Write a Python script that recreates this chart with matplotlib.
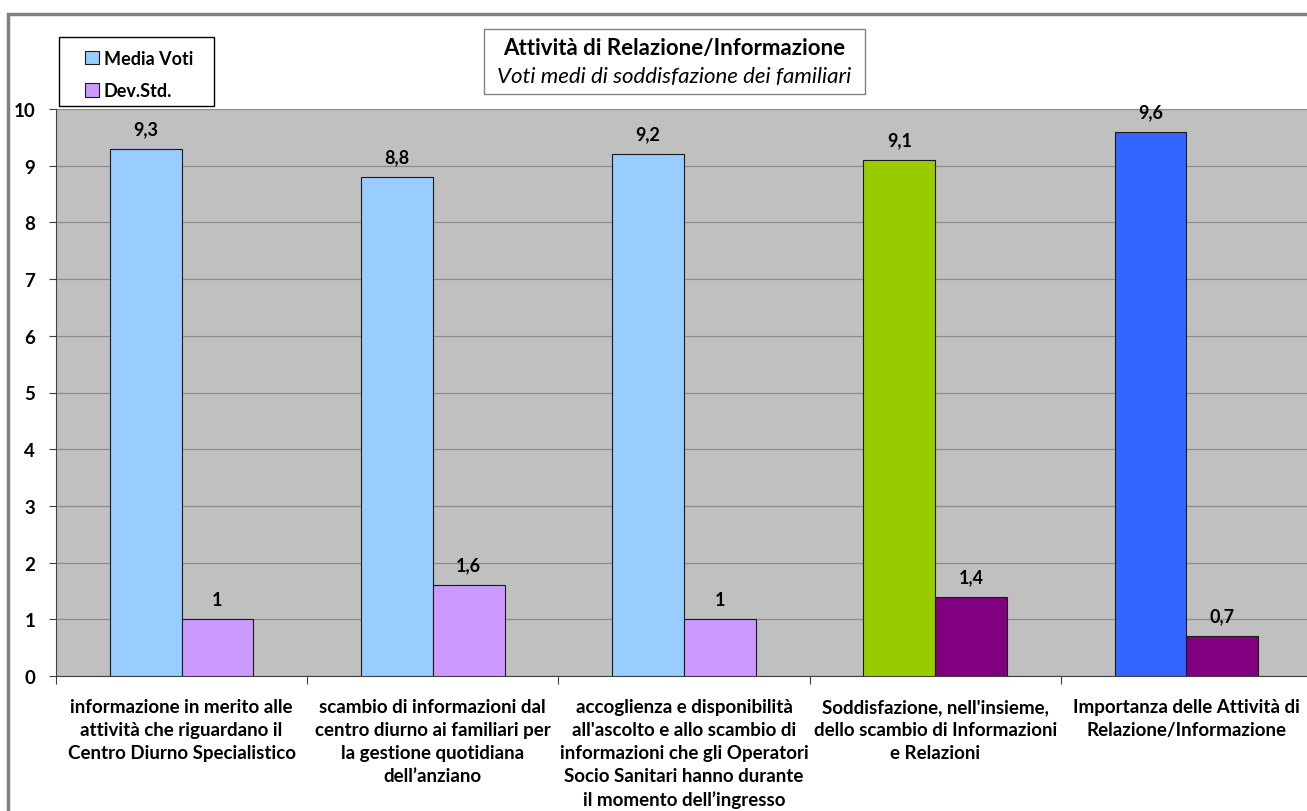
import numpy as np
import matplotlib
matplotlib.use("Agg")
import matplotlib.pyplot as plt
from matplotlib.patches import Rectangle, Patch

plt.rcParams['font.family'] = ['Lato', 'DejaVu Sans']

# ======== data ========#
categorie = [
    "informazione in merito alle\nattività che riguardano il\nCentro Diurno Specialistico",
    "scambio di informazioni dal\ncentro diurno ai familiari per\nla gestione quotidiana\ndell\u2019anziano",
    "accoglienza e disponibilità\nall'ascolto e allo scambio di\ninformazioni che gli Operatori\nSocio Sanitari hanno durante\nil momento dell\u2019ingresso",
    "Soddisfazione, nell'insieme,\ndello scambio di Informazioni\ne Relazioni",
    "Importanza delle Attività di\nRelazione/Informazione",
]
media_voti = [9.3, 8.8, 9.2, 9.1, 9.6]
dev_std = [1.0, 1.6, 1.0, 1.4, 0.7]
etichette_media = ["9,3", "8,8", "9,2", "9,1", "9,6"]
etichette_dev = ["1", "1,6", "1", "1,4", "0,7"]

col_media = ["#99CCFF", "#99CCFF", "#99CCFF", "#99CC00", "#3366FF"]
col_dev = ["#CC99FF", "#CC99FF", "#CC99FF", "#800080", "#800080"]

W, H = 1307, 812
fig = plt.figure(figsize=(W/100.0, H/100.0), dpi=100)

# outer chart border (cropped on right / bottom)
fig.patches.append(Rectangle((8.0/W, -0.1), 1.2, 1.1 - 15.0/H, transform=fig.transFigure,
                             fill=False, edgecolor="#808080", linewidth=2.5))

ax = fig.add_axes([56.0/W, 1 - 677.0/H, (1312.0 - 56.0)/W, (677.0 - 110.0)/H])
ax.set_facecolor("#C0C0C0")

x = np.arange(len(categorie))
bw = 0.286
b1 = ax.bar(x - bw/2, media_voti, bw, color=col_media, edgecolor="#1a1a1a", linewidth=0.8, zorder=3)
b2 = ax.bar(x + bw/2, dev_std, bw, color=col_dev, edgecolor="#1a1a1a", linewidth=0.8, zorder=3)

for r, t in zip(b1, etichette_media):
    ax.annotate(t, (r.get_x() + r.get_width()/2, r.get_height()), xytext=(0, 14.5),
                textcoords="offset points", ha="center", va="center", fontsize=13, fontweight="bold")
for r, t in zip(b2, etichette_dev):
    ax.annotate(t, (r.get_x() + r.get_width()/2, r.get_height()), xytext=(0, 14.5),
                textcoords="offset points", ha="center", va="center", fontsize=13, fontweight="bold")

ax.set_xlim(-0.5, len(categorie) - 0.5)
ax.set_ylim(0, 10)
ax.set_yticks(range(0, 11))
ax.yaxis.grid(True, color="#8c8c8c", linewidth=0.9, zorder=1)
ax.set_axisbelow(True)

ax.set_xticks(np.arange(-0.5, len(categorie), 1.0))
ax.set_xticklabels([])
ax.set_xticks(x, minor=True)
ax.set_xticklabels(categorie, minor=True, fontsize=13.5, fontweight="bold", linespacing=1.42, va="top")
ax.tick_params(axis="x", which="minor", length=0, pad=16)
ax.tick_params(axis="x", which="major", length=6, direction="out", color="#404040")
ax.tick_params(axis="y", length=5, direction="out", color="#404040", pad=10, labelsize=13.5)
for lab in ax.get_yticklabels():
    lab.set_fontweight("bold")

for s in ["top", "right"]:
    ax.spines[s].set_visible(False)
ax.spines["left"].set_color("#404040")
ax.spines["bottom"].set_color("#404040")

# legend box + entries
fig.patches.append(Rectangle((59.0/W, 1 - 107.0/H), (214.0 - 59.0)/W, 69.0/H, transform=fig.transFigure,
                             facecolor="white", edgecolor="black", linewidth=1.0, zorder=5))
handles = [Patch(facecolor="#99CCFF", edgecolor="#1a1a1a", linewidth=0.8, label="Media Voti"),
           Patch(facecolor="#CC99FF", edgecolor="#1a1a1a", linewidth=0.8, label="Dev.Std.")]
leg = fig.legend(handles=handles, loc="upper left", bbox_to_anchor=(85.0/W, 1 - 51.0/H),
                 frameon=False, handlelength=0.75, handleheight=0.75,
                 handletextpad=0.3, labelspacing=0.85, borderpad=0, borderaxespad=0,
                 prop={"weight": "bold", "size": 13})
leg.set_zorder(10)

# title box
fig.patches.append(Rectangle((484.0/W, 1 - 95.0/H), (865.0 - 484.0)/W, 65.0/H, transform=fig.transFigure,
                             facecolor="white", edgecolor="#808080", linewidth=1.0))
fig.text(674.5/W, 1 - 49.0/H, "Attività di Relazione/Informazione", ha="center", va="center",
         fontsize=16, fontweight="bold")
fig.text(674.5/W, 1 - 77.0/H, "Voti medi di soddisfazione dei familiari", ha="center", va="center",
         fontsize=16, fontstyle="italic")

fig.savefig("out.png", dpi=100)
